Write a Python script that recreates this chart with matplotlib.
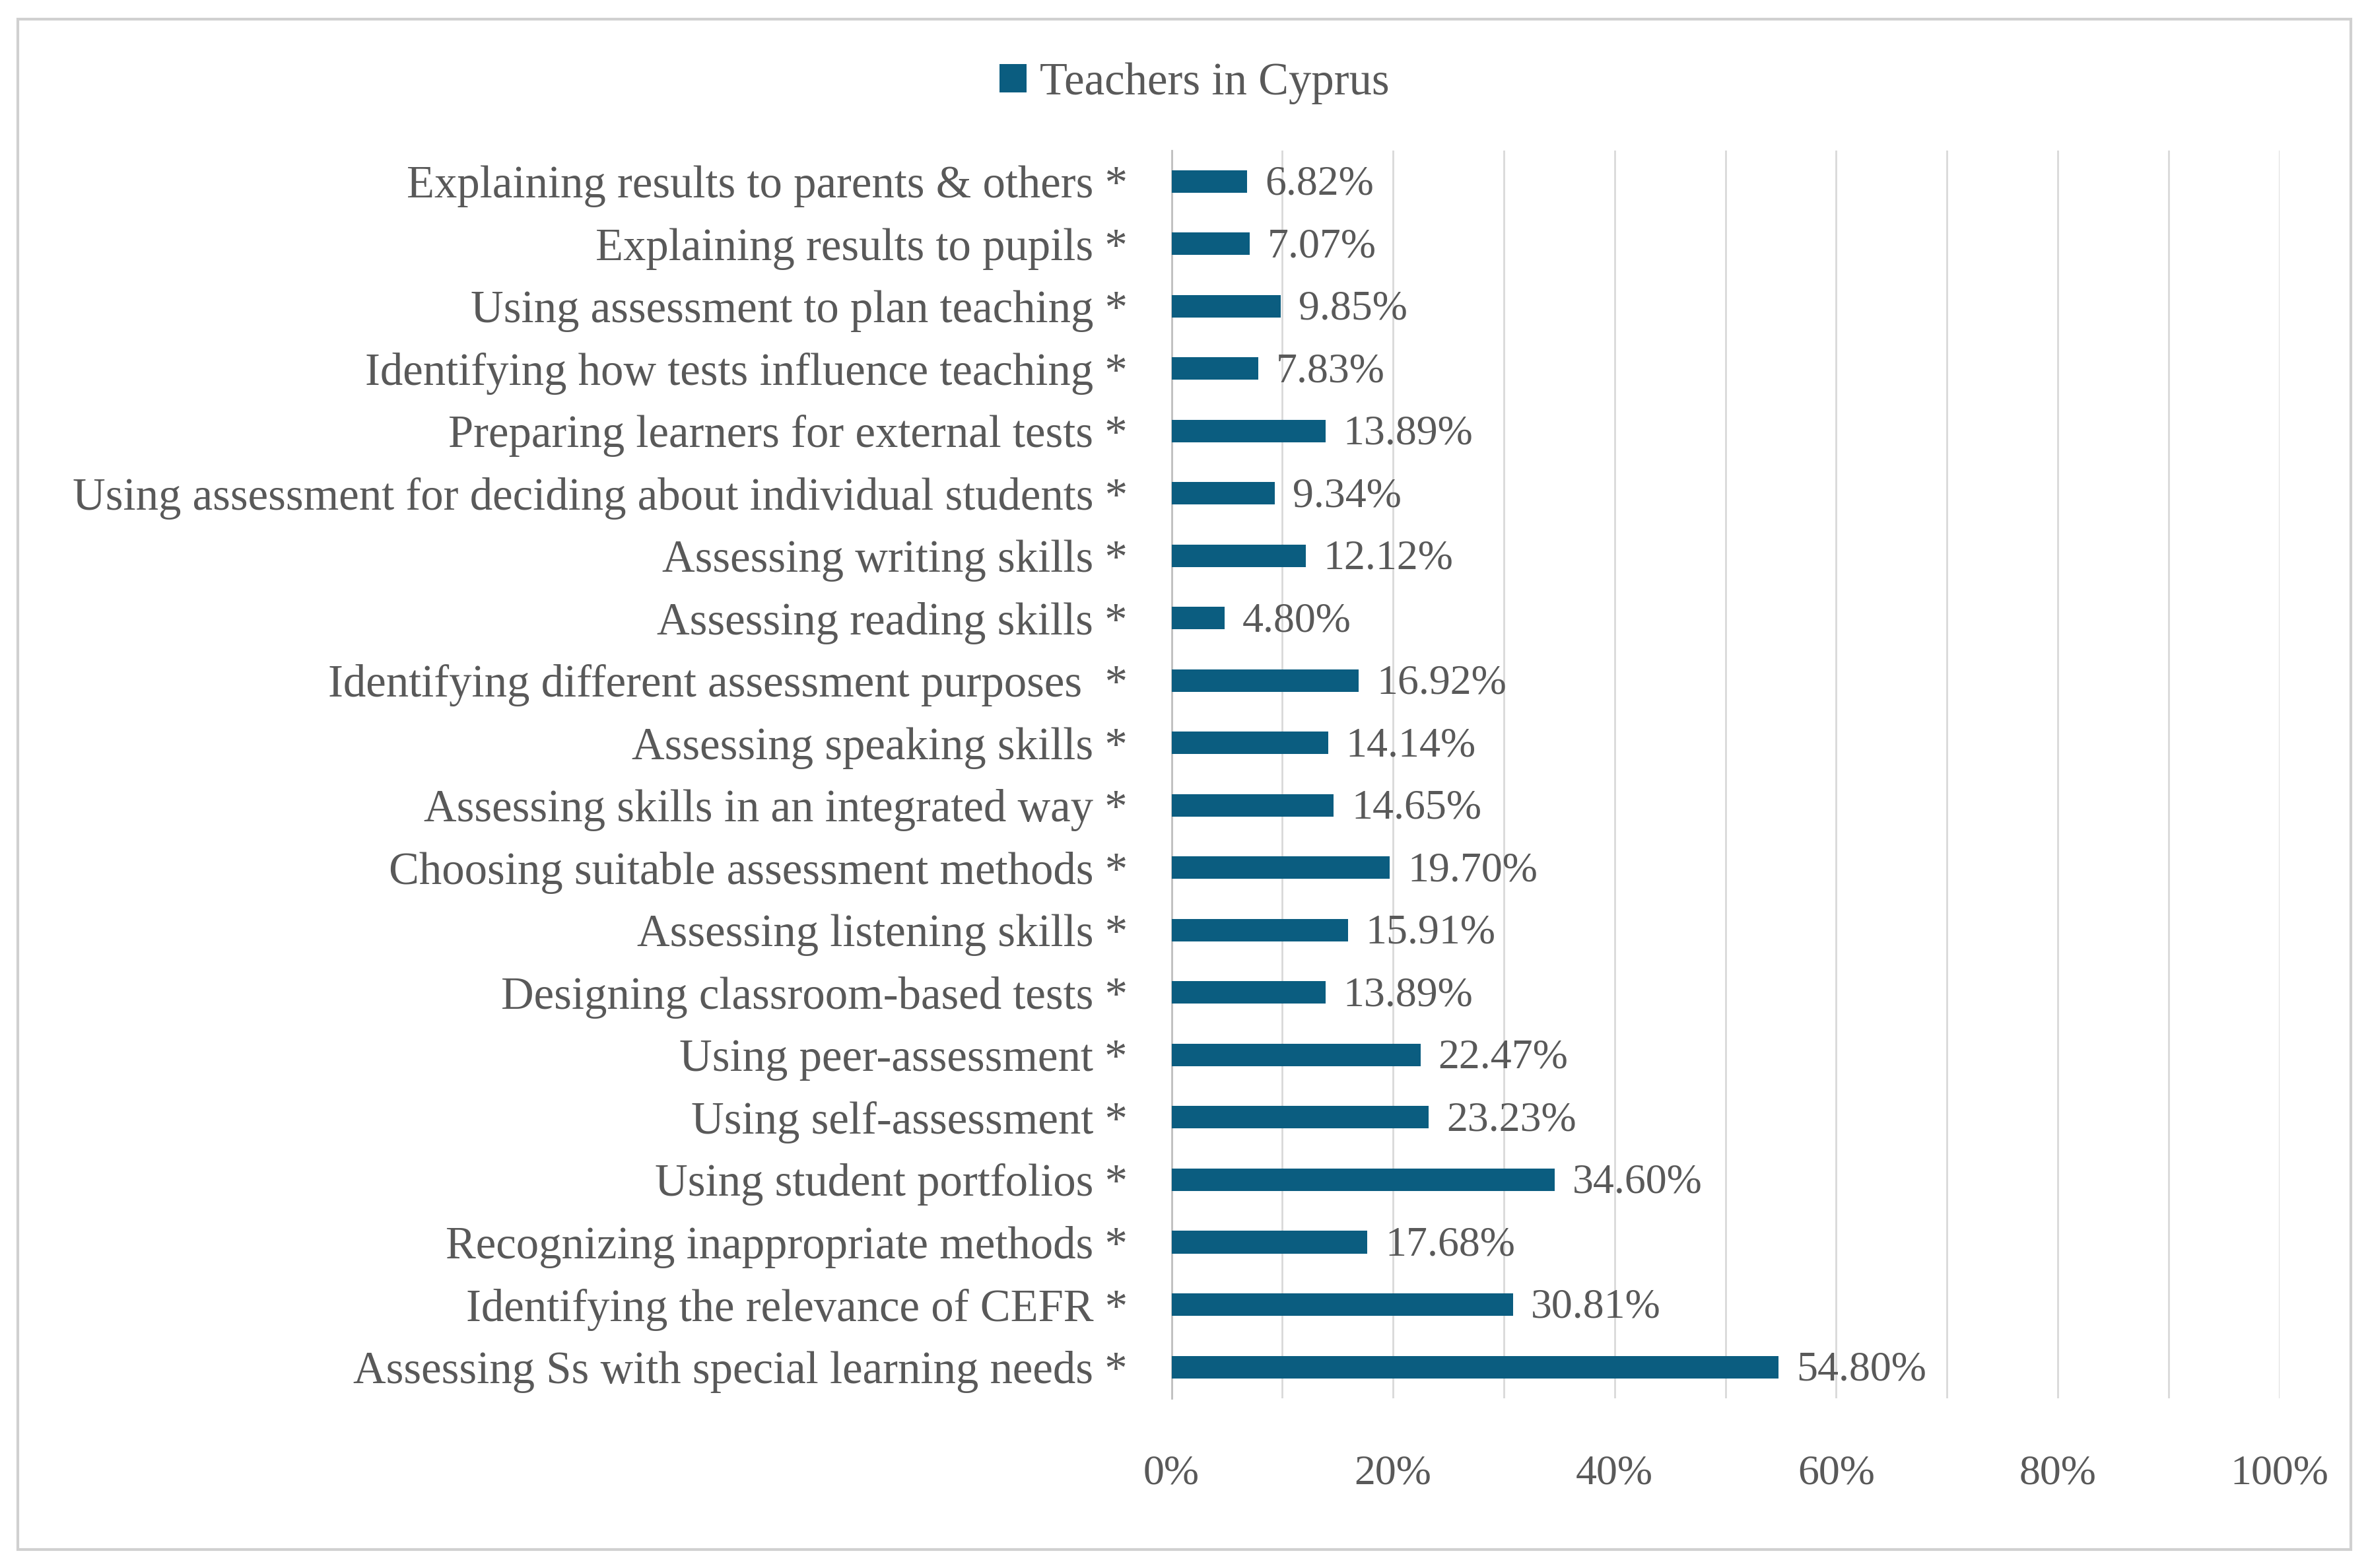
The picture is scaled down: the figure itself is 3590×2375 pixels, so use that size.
import matplotlib.pyplot as plt
from matplotlib.patches import Rectangle

# datos (de arriba hacia abajo, como en la figura)
categorias = [
    "Explaining results to parents & others *",
    "Explaining results to pupils *",
    "Using assessment to plan teaching *",
    "Identifying how tests influence teaching *",
    "Preparing learners for external tests *",
    "Using assessment for deciding about individual students *",
    "Assessing writing skills *",
    "Assessing reading skills *",
    "Identifying different assessment purposes  *",
    "Assessing speaking skills *",
    "Assessing skills in an integrated way *",
    "Choosing suitable assessment methods *",
    "Assessing listening skills *",
    "Designing classroom-based tests *",
    "Using peer-assessment *",
    "Using self-assessment *",
    "Using student portfolios *",
    "Recognizing inappropriate methods *",
    "Identifying the relevance of CEFR *",
    "Assessing Ss with special learning needs *",
]
porcentajes = [6.82, 7.07, 9.85, 7.83, 13.89, 9.34, 12.12, 4.80, 16.92, 14.14,
               14.65, 19.70, 15.91, 13.89, 22.47, 23.23, 34.60, 17.68, 30.81, 54.80]
serie = "Teachers in Cyprus"
ticks_x = [0, 20, 40, 60, 80, 100]

color_barra = '#0b5d80'
color_texto = '#595959'
fuente = 'Liberation Serif'
tam = 46
tam_cat = 49.5

fig = plt.figure(figsize=(35.9, 23.75), dpi=100)
ax = fig.add_axes([0.4943, 0.1083, 0.4674, 0.7959])

# posiciones: primera categoria arriba
pos = list(range(len(categorias) - 1, -1, -1))
barras = ax.barh(pos, porcentajes, height=0.36, color=color_barra, label=serie, zorder=3)

for p, v in zip(pos, porcentajes):
    ax.text(v + 1.6, p - 0.05, f"{v:.2f}%", va='center', ha='left', fontsize=tam,
            color=color_texto, family=fuente)

ax.set_xlim(0, 100)
ax.set_ylim(-0.5, len(categorias) - 0.5)
ax.set_yticks(pos)
ax.set_yticklabels(categorias, fontsize=tam_cat, color=color_texto, family=fuente)
ax.set_xticks(ticks_x)
ax.set_xticklabels([f"{t}%" for t in ticks_x], fontsize=tam, color=color_texto, family=fuente)
ax.set_xticks(range(0, 101, 10), minor=True)
ax.tick_params(axis='y', length=0, pad=48)
ax.tick_params(axis='x', which='both', length=0, pad=62)

ax.grid(True, axis='x', which='both', color='#d9d9d9', linewidth=2.0, zorder=0)
for s in ['top', 'right', 'bottom']:
    ax.spines[s].set_visible(False)
ax.spines['left'].set_color('#bfbfbf')
ax.spines['left'].set_linewidth(2.0)

fig.legend(handles=[barras], labels=[serie], loc='center', bbox_to_anchor=(0.504, 0.947),
           frameon=False, prop={'family': fuente, 'size': tam_cat}, labelcolor=color_texto,
           handlelength=0.6, handleheight=0.6, handletextpad=0.3)

# marco exterior
fig.patches.append(Rectangle((0.0075, 0.012), 0.9845, 0.976, transform=fig.transFigure,
                             fill=False, edgecolor='#d0d0d0', linewidth=3))

fig.savefig('out.png', dpi=100)
